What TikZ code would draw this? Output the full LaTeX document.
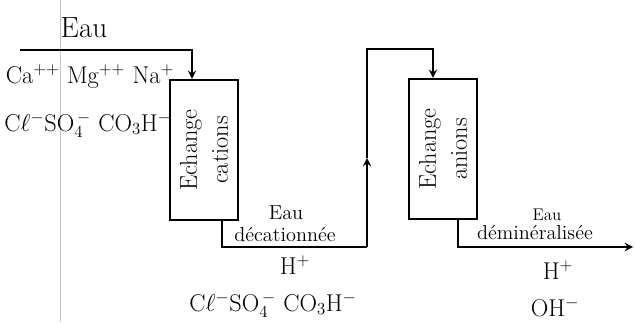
\documentclass[tikz,border=0pt]{standalone}
\usepackage{tikz}
\usetikzlibrary{shapes.geometric, arrows}
\tikzstyle{exchanger} = [
    rectangle,
    rotate=90,
    minimum width=3.5cm,
    minimum height=1.7cm,
    align=center,
    font=\LARGE,
    line width=1.6pt,
    draw=black
]
\tikzstyle{ions} = [font=\LARGE, inner sep=0pt]
\tikzstyle{flowlabel} = [font=\Large, inner sep=0pt]
\tikzstyle{line} = [line width=1.6pt]
\tikzstyle{arrow} = [line width=1.6pt,->,>=stealth]

\begin{document}
\begin{tikzpicture}[x=0.025cm, y=-0.025cm]

\useasboundingbox (0,0) rectangle (636,322);
\draw [gray!45, very thin] (60,0) -- (60,322);

\node (eau) [font=\huge, inner sep=0pt] at (84,28) {Eau};
\node (cations) [ions] at (90,77) {Ca$^{++}$ Mg$^{++}$ Na$^{+}$};
\node (anions) [ions] at (88,125) {C$\ell^{-}$SO$_4^{\,-}$ CO$_3$H$^{-}$};

\node (cat) [exchanger] at (204,150) {Echange\\cations};
\node (ani) [exchanger] at (443,149) {Echange\\anions};

\node (eau1) [flowlabel] at (286,213) {Eau};
\node (decat) [flowlabel] at (285,235) {d\'ecationn\'ee};
\node (hplus1) [ions] at (295,265) {H$^{+}$};
\node (anions2) [ions] at (273,305) {C$\ell^{-}$SO$_4^{\,-}$ CO$_3$H$^{-}$};

\node (eau2) [font=\large, inner sep=0pt] at (547,215) {Eau};
\node (demin) [flowlabel] at (535,233) {d\'emin\'eralis\'ee};
\node (hplus2) [ions] at (558,270) {H$^{+}$};
\node (ohminus) [ions] at (555,307) {OH$^{-}$};

\coordinate (in) at (20,50);
\coordinate (low) at (367,247);
\coordinate (mid) at (367,158);
\coordinate (high) at (367,49);
\coordinate (out) at (633,247);

\draw [arrow] (in) -| ([xshift=-0.3cm]cat.east);
\draw [line] ([xshift=0.45cm]cat.west) |- (low);
\draw [arrow] (low) -- (mid);
\draw [arrow] (mid) -- (high) -| ([xshift=-0.25cm]ani.east);
\draw [arrow] ([xshift=0.375cm]ani.west) |- (out);

\end{tikzpicture}
\end{document}
